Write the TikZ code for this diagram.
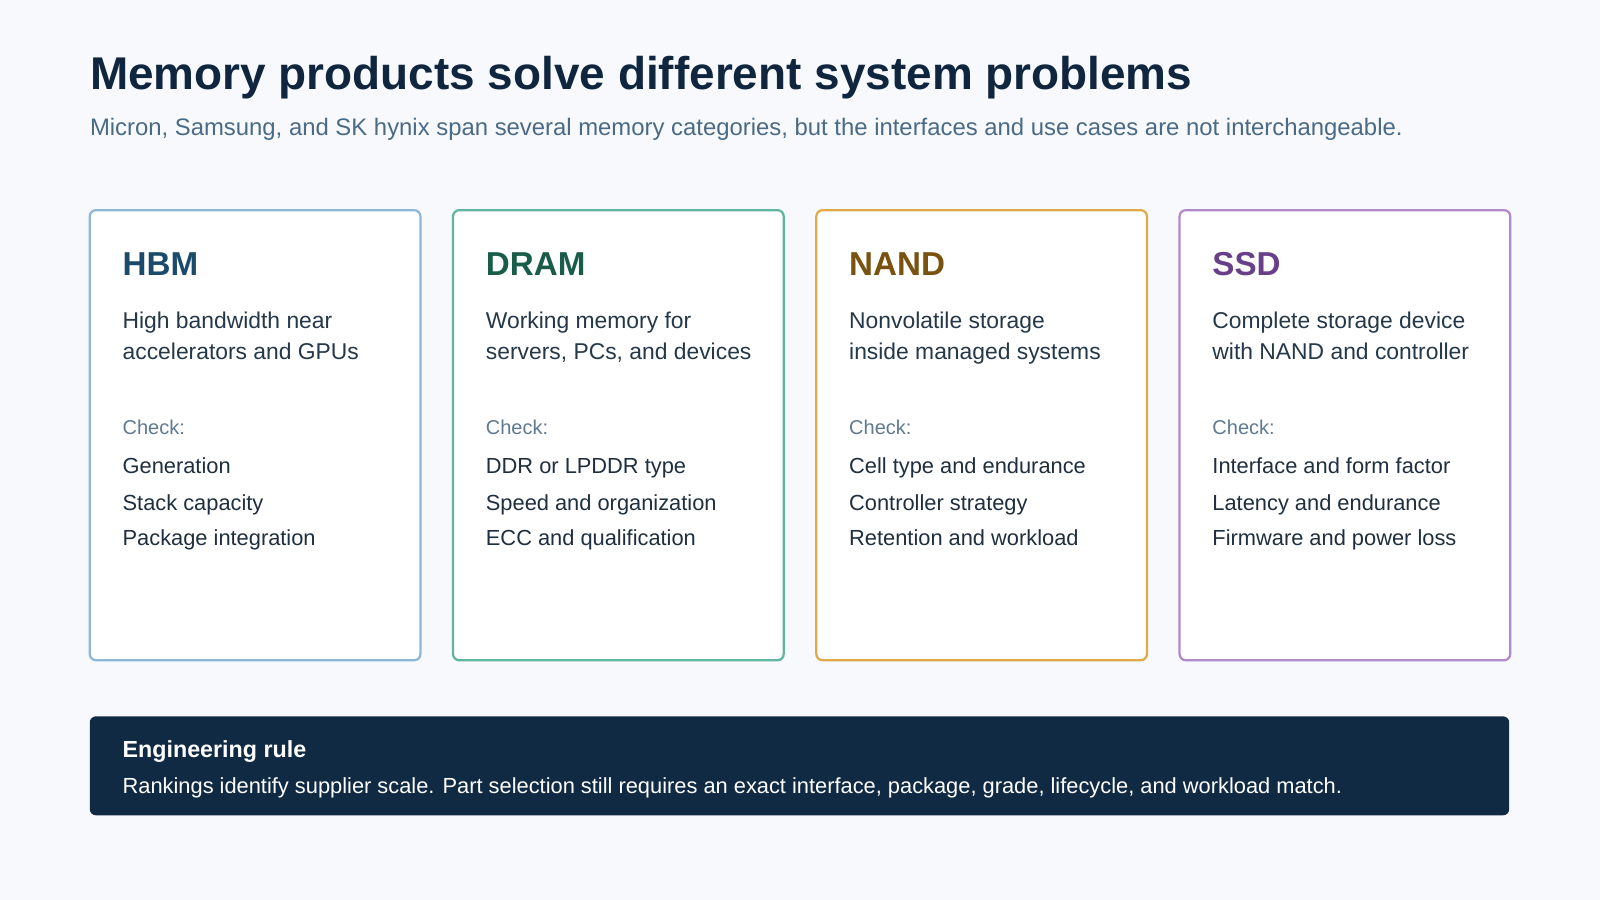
\documentclass[tikz,border=0pt]{standalone}
\usepackage{fontspec}
\setmainfont{Liberation Sans}
\definecolor{bg}{HTML}{F7F9FC}
\definecolor{navy}{HTML}{10263F}
\definecolor{sub}{HTML}{4A6A85}
\definecolor{chk}{HTML}{5F7A90}
\definecolor{item}{HTML}{1F2F3F}
\definecolor{bA}{HTML}{8FB8D8}\definecolor{tA}{HTML}{1B4A6B}
\definecolor{bB}{HTML}{5FB5A0}\definecolor{tB}{HTML}{1A5C4A}
\definecolor{bC}{HTML}{E0A94A}\definecolor{tC}{HTML}{7A5210}
\definecolor{bD}{HTML}{B08ACB}\definecolor{tD}{HTML}{6A3F8A}
\definecolor{boxc}{HTML}{102A43}
\begin{document}
\begin{tikzpicture}[x=1pt,y=-1pt,
  card/.style={draw=#1,line width=2.2pt,fill=white,rounded corners=6pt},
  txt/.style={anchor=base west,inner sep=0pt},
  ctitle/.style={txt,font=\fontsize{32.5}{36}\selectfont\bfseries,text=#1},
  cdesc/.style={txt,font=\fontsize{22.4}{30}\selectfont,text=item!85!sub,align=left},
  chk/.style={txt,font=\fontsize{19.6}{22}\selectfont,text=chk},
  itm/.style={txt,font=\fontsize{21.4}{24}\selectfont,text=item}]
\fill[bg] (0,0) rectangle (1568,882);
\useasboundingbox (0,0) rectangle (1568,882);
\node[txt,font=\fontsize{45}{50}\selectfont\bfseries,text=navy] (title) at (88,88) {Memory products solve different system problems};
\node[txt,font=\fontsize{23.4}{26}\selectfont,text=sub] (subt) at (88,133) {Micron, Samsung, and SK hynix span several memory categories, but the interfaces and use cases are not interchangeable.};
\foreach \x/\c/\t/\l/\m/\a/\b/\cc [count=\i] in {
 88/A/HBM/High bandwidth near/accelerators and GPUs/Generation/Stack capacity/Package integration,
 444/B/DRAM/Working memory for/{servers, PCs, and devices}/DDR or LPDDR type/Speed and organization/ECC and qualification,
 800/C/NAND/Nonvolatile storage/inside managed systems/Cell type and endurance/Controller strategy/Retention and workload,
 1156/D/SSD/Complete storage device/with NAND and controller/Interface and form factor/Latency and endurance/Firmware and power loss}{
 \draw[card=b\c] (\x,206) rectangle (\x+324,647);
 \node[ctitle=t\c] (t\i) at (\x+32,270) {\t};
 \node[cdesc] (d\i) at (\x+32,322) {\l};
 \node[cdesc] (e\i) at (\x+32,352) {\m};
 \node[chk] (k\i) at (\x+32,426) {Check:};
 \node[itm] (i\i) at (\x+32,464) {\a};
 \node[itm] (j\i) at (\x+32,500) {\b};
 \node[itm] (l\i) at (\x+32,535) {\cc};
}
\fill[boxc,rounded corners=6pt] (88,702) rectangle (1479,799);
\node[txt,font=\fontsize{22.8}{26}\selectfont\bfseries,text=white] (rt) at (120,742) {Engineering rule};
\node[txt,font=\fontsize{21.4}{24}\selectfont,text=white] (rb) at (120,778) {Rankings identify supplier scale. Part selection still requires an exact interface, package, grade, lifecycle, and workload match.};
\end{tikzpicture}
\end{document}
